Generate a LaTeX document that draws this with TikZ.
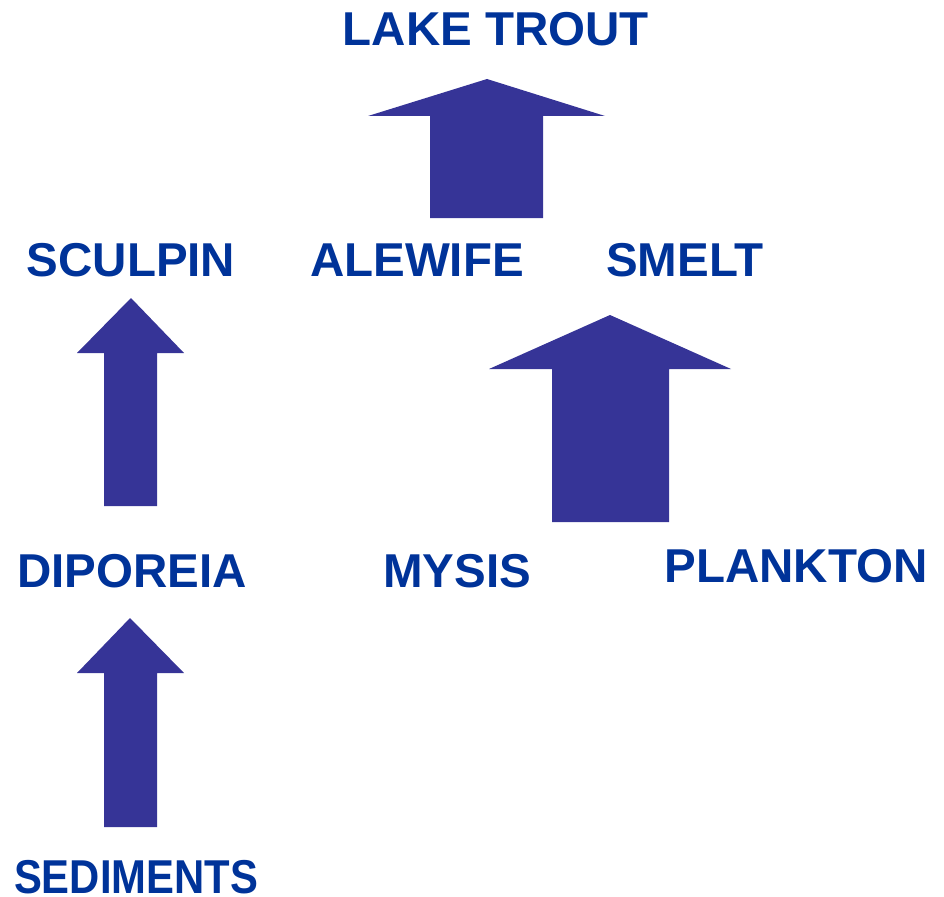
\documentclass[tikz,border=0pt]{standalone}
\usepackage{fontspec}
\setmainfont{Liberation Sans}
\usepackage{xcolor}
\usepackage{graphicx}
\definecolor{labelblue}{RGB}{0,51,153}
\definecolor{arrowblue}{RGB}{54,52,151}

\tikzset{
  species/.style={anchor=base, inner sep=0pt, text=labelblue,
    font=\fontsize{47.5}{50}\selectfont\bfseries},
  flowarrow/.style={fill=arrowblue}
}

\begin{document}
\begin{tikzpicture}[x=1pt,y=-1pt]
\useasboundingbox (0,0) rectangle (944,896);

% labels, placed by baseline
\node[species] (trout) at (496,46) {LAKE TROUT};
\node[species] (sculpin) at (131,276) {SCULPIN};
\node[species] (alewife) at (417,276) {ALEWIFE};
\node[species] (smelt) at (685,276) {SMELT};
\node[species] (diporeia) at (132,587) {DIPOREIA};
\node[species] (mysis) at (457,587) {MYSIS};
\node[species] (plankton) at (796,582) {PLANKTON};
\node[species, text depth=0pt] (sediments) at (136,893) {\scalebox{0.88}[1]{SEDIMENTS}};

% block arrows
\fill[flowarrow] (430,218) -- (430,116) -- (368,116) -- (487,79)
    -- (605,116) -- (543,116) -- (543,218) -- cycle;
\fill[flowarrow] (104,506) -- (104,353) -- (77,353) -- (131,298)
    -- (184,353) -- (157,353) -- (157,506) -- cycle;
\fill[flowarrow] (104,827) -- (104,673) -- (77,673) -- (130,618)
    -- (184,673) -- (157,673) -- (157,827) -- cycle;
\fill[flowarrow] (552,522) -- (552,369) -- (489,369) -- (610,315)
    -- (731,369) -- (669,369) -- (669,522) -- cycle;
\end{tikzpicture}
\end{document}
